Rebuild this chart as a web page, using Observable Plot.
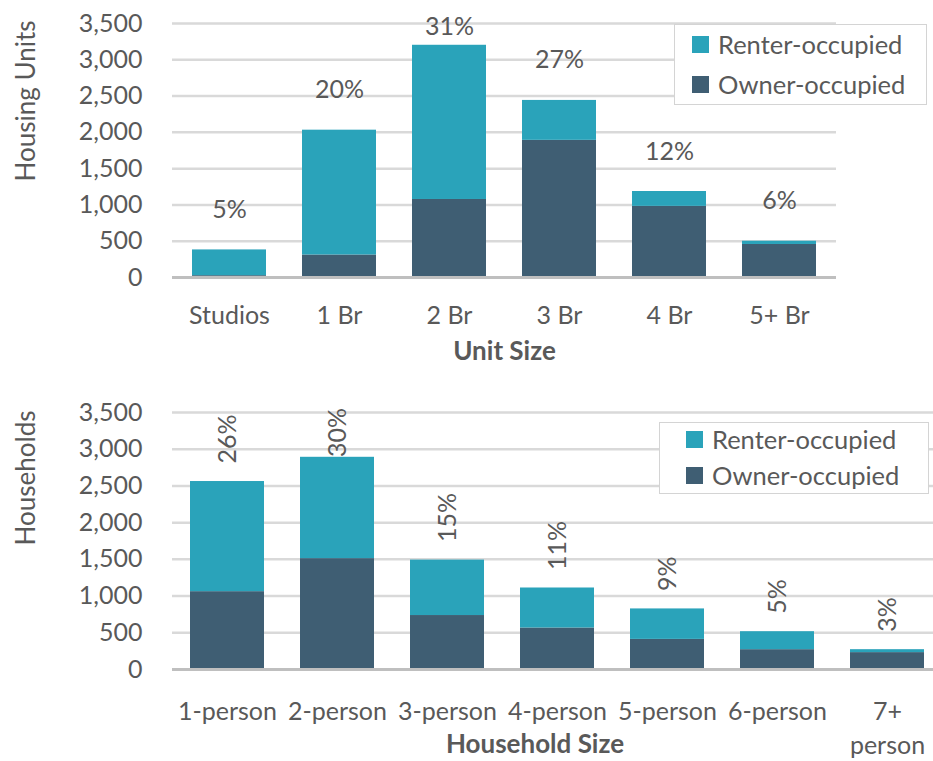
<!DOCTYPE html>
<html>
<head>
<meta charset="utf-8">
<script src="https://cdn.jsdelivr.net/npm/d3@7"></script>
<script src="https://cdn.jsdelivr.net/npm/@observablehq/plot@0.6"></script>
<style>
  html, body { margin: 0; padding: 0; background: #fff; overflow: hidden; }
  #wrap { position: relative; width: 933px; height: 761px; font-family: Lato, sans-serif; color: #595959; }
  .chart { position: absolute; left: 0; }
  .legend { position: absolute; background: #fff; border: 1.5px solid #d4d4d4; box-sizing: border-box; }
  .sw { position: absolute; width: 17px; height: 17px; }
  .lt { position: absolute; font-size: 25.5px; line-height: 25px; white-space: nowrap; color: #595959; }
</style>
</head>
<body>
<div id="wrap"></div>
<script>
// ---- data ----
const types = ["Renter-occupied", "Owner-occupied"];
const typeColors = ["#2aa3ba", "#3f5e73"];
const yTicks = [0, 500, 1000, 1500, 2000, 2500, 3000, 3500];

const units = ["Studios", "1 Br", "2 Br", "3 Br", "4 Br", "5+ Br"];
const unitOwner = [25, 310, 1075, 1890, 980, 455];
const unitRenter = [355, 1720, 2125, 550, 205, 45];
const unitPct = ["5%", "20%", "31%", "27%", "12%", "6%"];

const hh = ["1-person", "2-person", "3-person", "4-person", "5-person", "6-person", "7+ person"];
const hhTickLabels = ["1-person", "2-person", "3-person", "4-person", "5-person", "6-person", "7+\nperson"];
const hhOwner = [1060, 1510, 735, 565, 410, 270, 230];
const hhRenter = [1500, 1380, 755, 545, 415, 245, 40];
const hhPct = ["26%", "30%", "15%", "11%", "9%", "5%", "3%"];

function rows(cats, owner, renter) {
  const out = [];
  cats.forEach((c, i) => {
    out.push({cat: c, type: "Owner-occupied", value: owner[i]});
    out.push({cat: c, type: "Renter-occupied", value: renter[i]});
  });
  return out;
}
function totals(cats, owner, renter, pct) {
  return cats.map((c, i) => ({cat: c, total: owner[i] + renter[i], pct: pct[i]}));
}

const wrap = document.getElementById("wrap");
const baseStyle = {fontFamily: "Lato, sans-serif", fontSize: "25px", color: "#595959", background: "transparent", overflow: "visible"};
const FS = 25;

// ---- top chart ----
const topChart = Plot.plot({
  width: 933, height: 380,
  marginLeft: 172, marginRight: 97, marginTop: 23, marginBottom: 103,
  style: baseStyle,
  x: {domain: units, paddingInner: 0.33, paddingOuter: 0.165, axis: null},
  y: {domain: [0, 3500]},
  color: {domain: types, range: typeColors},
  marks: [
    Plot.ruleY(yTicks.filter(d => d > 0), {stroke: "#d9d9d9", strokeWidth: 2.5}),
    Plot.barY(rows(units, unitOwner, unitRenter), {x: "cat", y: "value", fill: "type"}),
    Plot.ruleY([0], {stroke: "#bfbfbf", strokeWidth: 3}),
    Plot.axisY({ticks: yTicks, tickFormat: d3.format(","), tickSize: 0, tickPadding: 30, label: null, fontSize: FS}),
    Plot.text(units, {x: d => d, text: d => d, frameAnchor: "bottom", lineAnchor: "top", dy: 29, fontSize: FS, fill: "#595959"}),
    Plot.text(totals(units, unitOwner, unitRenter, unitPct), {x: "cat", y: d => Math.min(d.total, 2900), text: "pct", dy: -40, fontSize: FS, fill: "#595959"}),
    Plot.text(["Unit Size"], {frameAnchor: "bottom", lineAnchor: "top", dy: 64, fontSize: 26, fontWeight: 700, fill: "#595959"}),
    Plot.text(["Housing Units"], {frameAnchor: "top-left", rotate: -90, textAnchor: "end", dx: -156, dy: -3, fontSize: 26, fill: "#595959"})
  ]
});
topChart.classList.add("chart");
topChart.style.top = "0px";
wrap.appendChild(topChart);

// ---- bottom chart ----
const bottomChart = Plot.plot({
  width: 933, height: 381,
  marginLeft: 172, marginRight: 0, marginTop: 32, marginBottom: 92,
  style: baseStyle,
  x: {domain: hh, range: [172, 942], paddingInner: 0.33, paddingOuter: 0.165, axis: null},
  y: {domain: [0, 3500]},
  color: {domain: types, range: typeColors},
  marks: [
    Plot.ruleY(yTicks.filter(d => d > 0), {stroke: "#d9d9d9", strokeWidth: 2.5}),
    Plot.barY(rows(hh, hhOwner, hhRenter), {x: "cat", y: "value", fill: "type"}),
    Plot.ruleY([0], {stroke: "#bfbfbf", strokeWidth: 3}),
    Plot.axisY({ticks: yTicks, tickFormat: d3.format(","), tickSize: 0, tickPadding: 30, label: null, fontSize: FS}),
    Plot.text(hh, {x: d => d, text: (d, i) => hhTickLabels[i], frameAnchor: "bottom", lineAnchor: "top", dy: 26, lineHeight: 1.38, fontSize: FS, fill: "#595959"}),
    Plot.text(totals(hh, hhOwner, hhRenter, hhPct), {x: "cat", y: d => Math.min(d.total, 2650), text: "pct", rotate: -90, textAnchor: "start", dy: -18, fontSize: FS, fill: "#595959"}),
    Plot.text(["Household Size"], {frameAnchor: "bottom", lineAnchor: "top", dy: 65, dx: -18, fontSize: 26, fontWeight: 700, fill: "#595959"}),
    Plot.text(["Households"], {frameAnchor: "top-left", rotate: -90, textAnchor: "end", dx: -156, dy: -2, fontSize: 26, fill: "#595959"})
  ]
});
bottomChart.classList.add("chart");
bottomChart.style.top = "380px";
wrap.appendChild(bottomChart);

// ---- legends ----
function legend(left, topPx, w, h, swLeft, swTops, txtLeft) {
  const box = document.createElement("div");
  box.className = "legend";
  Object.assign(box.style, {left: left + "px", top: topPx + "px", width: w + "px", height: h + "px"});
  types.forEach((t, i) => {
    const sw = document.createElement("div");
    sw.className = "sw";
    Object.assign(sw.style, {left: swLeft + "px", top: swTops[i] + "px", background: typeColors[i]});
    box.appendChild(sw);
    const tx = document.createElement("div");
    tx.className = "lt";
    tx.textContent = t;
    Object.assign(tx.style, {left: txtLeft + "px", top: (swTops[i] - 4) + "px"});
    box.appendChild(tx);
  });
  wrap.appendChild(box);
}
legend(674, 24, 253, 81, 17, [11, 51], 43);
legend(659, 422, 270, 72, 26, [8, 44], 52);
</script>
</body>
</html>
